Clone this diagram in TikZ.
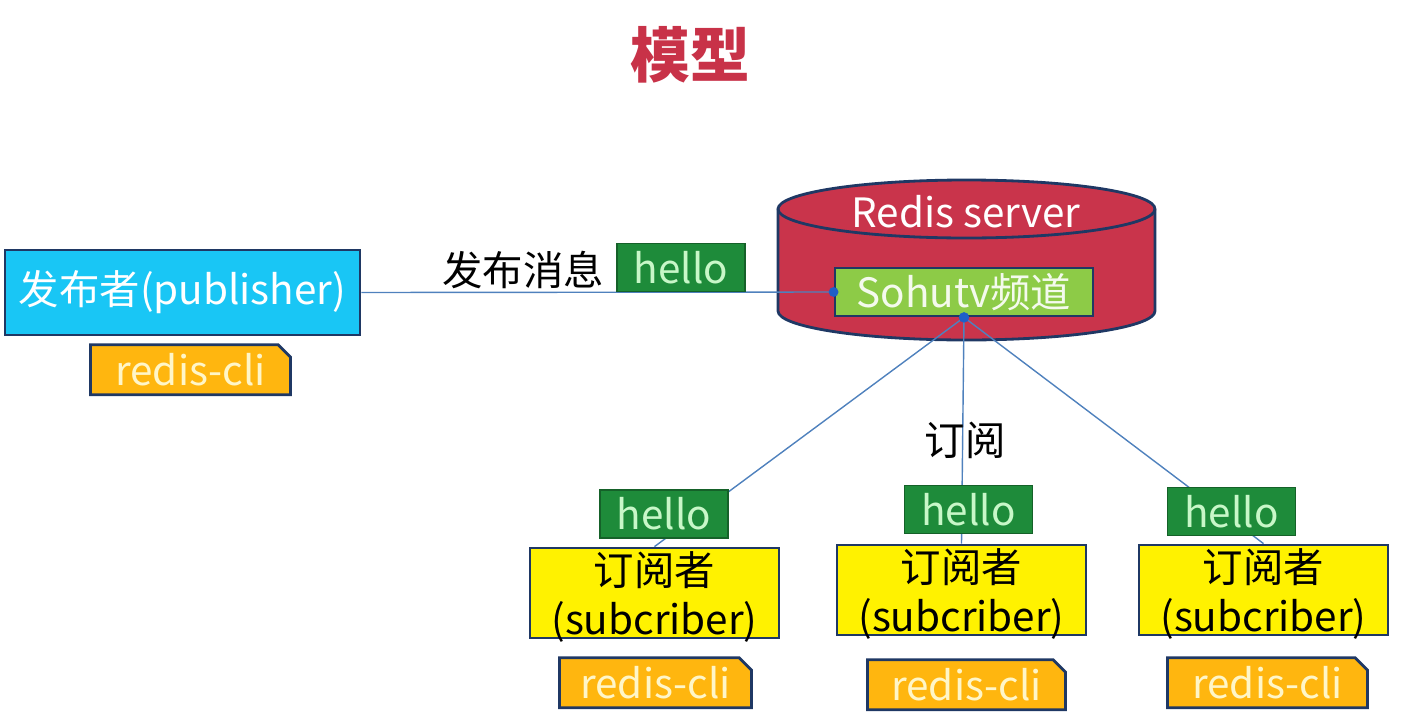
\documentclass[tikz,border=0pt]{standalone}
\usepackage{fontspec}
\setmainfont{Noto Sans CJK SC}
\usepackage{tikz}
\usetikzlibrary{positioning,shapes.misc}

\definecolor{titlered}{RGB}{200,50,72}
\definecolor{edgeblue}{RGB}{31,56,100}
\definecolor{pubcyan}{RGB}{25,198,245}
\definecolor{cliorange}{RGB}{255,182,15}
\definecolor{clitext}{RGB}{255,246,200}
\definecolor{hellogreen}{RGB}{30,139,58}
\definecolor{hellotext}{RGB}{200,247,200}
\definecolor{redisred}{RGB}{201,52,75}
\definecolor{chgreen}{RGB}{141,203,71}
\definecolor{subyellow}{RGB}{255,242,0}
\definecolor{linkblue}{RGB}{79,129,189}
\definecolor{dotblue}{RGB}{31,95,200}

\begin{document}
\begin{tikzpicture}[
  x=0.02cm, y=-0.02cm,
  font=\fontsize{23}{28}\selectfont,
  box/.style={
    rectangle, draw=edgeblue, line width=1.6pt,
    inner sep=0pt, align=center
  },
  pubbox/.style={box, fill=pubcyan, text=white,
    minimum width=355*0.02cm, minimum height=85*0.02cm},
  subbox/.style={box, fill=subyellow, text=black,
    minimum width=249*0.02cm, minimum height=90*0.02cm,
    text depth=0pt},
  chbox/.style={box, fill=chgreen, text=white!90!chgreen,
    minimum width=258*0.02cm, minimum height=48*0.02cm},
  cli/.style={
    chamfered rectangle, chamfered rectangle corners=north east,
    chamfered rectangle xsep=3.5pt, chamfered rectangle ysep=3.5pt,
    draw=edgeblue, line width=1.6pt, fill=cliorange, text=clitext,
    inner sep=0pt, minimum width=200*0.02cm, minimum height=50*0.02cm
  },
  msg/.style={
    rectangle, draw=hellogreen!70!black, line width=0.8pt,
    fill=hellogreen, text=hellotext, inner sep=0pt,
    minimum width=128*0.02cm, minimum height=48*0.02cm
  },
  store/.style={draw=edgeblue, line width=1.6pt, fill=redisred},
  link/.style={draw=linkblue, line width=0.8pt},
  dot/.style={fill=dotblue}
]
\useasboundingbox (0,0) rectangle (1417,717);

% title
\node[text=titlered, font=\fontsize{34}{40}\selectfont\bfseries] (title) at (690,55) {模型};

% server (cylinder)
\path[store] (778,209) -- (778,311)
  arc[start angle=180, end angle=0, x radius=188.5, y radius=29]
  -- (1155,209)
  arc[start angle=0, end angle=-180, x radius=188.5, y radius=29] -- cycle;
\draw[store, fill=none] (778,209)
  arc[start angle=180, end angle=0, x radius=188.5, y radius=29];
\node[text=white] (srvlbl) at (966,212) {Redis server};
\node[chbox] (chan) at (964,292) {Sohutv频道};

% publisher
\node[pubbox] (pub) at (182.5,292.5) {发布者(publisher)};
\node[cli, below=7*0.02cm of pub, xshift=8*0.02cm] (pubcli) {redis-cli};

% subscribers
\node[subbox] (sub1) at (654.5,593) {订阅者\\(subcriber)};
\node[subbox] (sub2) at (961.5,590) {订阅者\\(subcriber)};
\node[subbox] (sub3) at (1263.5,590) {订阅者\\(subcriber)};
\node[cli, minimum width=192*0.02cm, below=17*0.02cm of sub1, xshift=1*0.02cm] (cli1) {redis-cli};
\node[cli, minimum width=198*0.02cm, below=22*0.02cm of sub2, xshift=5*0.02cm] (cli2) {redis-cli};
\node[cli, below=20*0.02cm of sub3, xshift=4*0.02cm] (cli3) {redis-cli};

% connectors
\draw[link] (pub.east) -- (chan.west);
\draw[link] (chan.south) -- (sub1.north);
\draw[link] (chan.south) -- (sub2.north);
\draw[link] (chan.south) -- (sub3.north);
\fill[dot] (chan.west) circle (2.8pt);
\fill[dot] (chan.south) circle (3pt);

% messages
\node (publbl) at (523,270) {发布消息};
\node[msg] (pubmsg) at (681,267.5) {hello};
\node (sublbl) at (965,440) {订阅};
\node[msg] (msg1) at (664,514) {hello};
\node[msg] (msg2) at (968.5,509.5) {hello};
\node[msg] (msg3) at (1231.5,511.5) {hello};

\end{tikzpicture}
\end{document}
